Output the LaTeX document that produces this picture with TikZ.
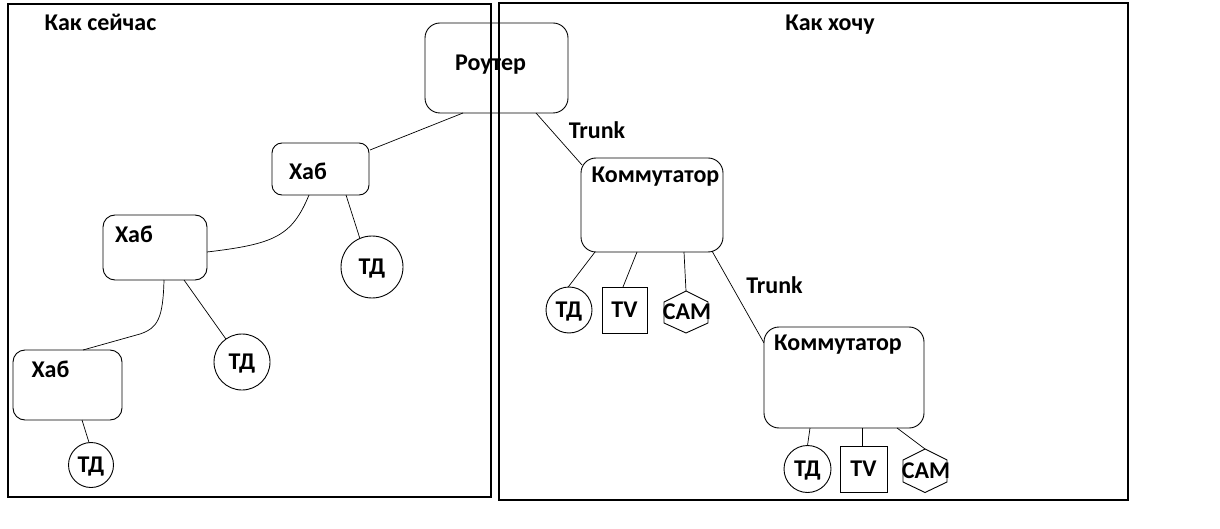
\documentclass[tikz,border=0pt]{standalone}
\usepackage{fontspec}
\setmainfont{Carlito}
\usetikzlibrary{calc}
\newcommand\dfont{\fontsize{24}{28}\selectfont\bfseries}
\tikzset{
  framebox/.style={draw, line width=1.4pt},
  rbox/.style={draw, line width=0.9pt, inner sep=0pt, outer sep=0pt, rounded corners=#1},
  rbox/.default=14pt,
  tdnode/.style={draw, circle, line width=0.9pt, inner sep=0pt, outer sep=0pt, minimum size=#1, font=\dfont, text height=15pt, text depth=0pt},
  tvnode/.style={draw, rectangle, line width=0.9pt, inner sep=0pt, outer sep=0pt, minimum width=45pt, minimum height=46pt, font=\dfont, text height=15pt, text depth=0pt},
  hexnode/.style={inner sep=0pt, outer sep=0pt, font=\dfont, text height=15pt, text depth=0pt},
  hexline/.style={line width=0.9pt},
  txt/.style={inner sep=0pt, anchor=base, font=\dfont},
  link/.style={line width=0.7pt}
}
\begin{document}
\begin{tikzpicture}[x=1pt, y=-1pt]
\useasboundingbox (0,0) rectangle (1220,529);
% frames
\draw[framebox] (8,4) rectangle (491,497);
\draw[framebox] (499,3) rectangle (1128,500);
\node[txt] (tleft) at (100.5,31) {Как сейчас};
\node[txt] (tright) at (830,31) {Как хочу};

% router
\node[rbox=15pt, minimum width=143pt, minimum height=90pt] (router) at (496.5,68) {};
\node[txt] (trouter) at (490.5,71) {Роутер};

% left side hubs
\node[rbox=10pt, minimum width=97pt, minimum height=52pt] (hub1) at (320.5,169) {};
\node[txt] (thub1) at (308,180) {Хаб};
\node[rbox=12pt, minimum width=104pt, minimum height=65pt] (hub2) at (155,247.5) {};
\node[txt] (thub2) at (134,243) {Хаб};
\node[rbox=12pt, minimum width=109pt, minimum height=70pt] (hub3) at (67.5,385) {};
\node[txt] (thub3) at (50.5,377) {Хаб};
\node[tdnode=62pt] (td1) at (372,267) {ТД};
\node[tdnode=56pt] (td2) at (242,362) {ТД};
\node[tdnode=45pt] (td3) at (91,465) {ТД};

% right side switches
\node[rbox=15pt, minimum width=142pt, minimum height=94pt] (sw1) at (652,205) {};
\node[txt] (tsw1) at (655.5,183) {Коммутатор};
\node[rbox=15pt, minimum width=160pt, minimum height=101pt] (sw2) at (844,377.5) {};
\node[txt] (tsw2) at (838,350) {Коммутатор};
\node[txt] (trunk1) at (597,139) {Trunk};
\node[txt] (trunk2) at (774.5,293) {Trunk};

\node[tdnode=46pt] (rtd1) at (569,310) {ТД};
\node[tvnode] (tv1) at (624.5,310) {TV};
\node[hexnode] (cam1) at (687,312) {CAM};
\draw[hexline] ([shift={(-1,-21)}]cam1.center) -- ++(22,11) -- ++(0,21) -- ++(-22,10) -- ++(-22,-10) -- ++(0,-21) -- cycle;

\node[tdnode=47pt] (rtd2) at (807.5,469) {ТД};
\node[tvnode, minimum width=47pt] (tv2) at (863.5,469) {TV};
\node[hexnode] (cam2) at (926,470.5) {CAM};
\draw[hexline] ([shift={(-1,-21.5)}]cam2.center) -- ++(22,11) -- ++(0,22) -- ++(-22,10.5) -- ++(-22,-10.5) -- ++(0,-22) -- cycle;

% connectors left
\draw[link] ([shift={(38,0)}]router.south west) -- ([shift={(1,7)}]hub1.north east);
\draw[link] ([shift={(37,0)}]hub1.south west) .. controls (292,236) and (275,244) .. ([shift={(0,37)}]hub2.north east);
\draw[link] ([shift={(74,0)}]hub1.south west) -- (td1.113);
\draw[link] ([shift={(61,0)}]hub2.south west) .. controls (163,318) and (158,328) .. (140,334) -- ([shift={(70,0)}]hub3.north west);
\draw[link] ([shift={(81,0)}]hub2.south west) -- (td2.125);
\draw[link] ([shift={(69,0)}]hub3.south west) -- (td3.95);

% connectors right
\draw[link] ([shift={(111,0)}]router.south west) -- ([shift={(1,7)}]sw1.north west);
\draw[link] ([shift={(14,0)}]sw1.south west) -- (rtd1.92);
\draw[link] ([shift={(56,0)}]sw1.south west) -- ([shift={(21,0)}]tv1.north west);
\draw[link] ([shift={(103,0)}]sw1.south west) -- ([shift={(-1,-21)}]cam1.center);
\draw[link] ([shift={(-11,-1)}]sw1.south east) -- ([shift={(0,16)}]sw2.north west);
\draw[link] ([shift={(46,0)}]sw2.south west) -- (rtd2.north);
\draw[link] ([shift={(98,0)}]sw2.south west) -- ([shift={(22,0)}]tv2.north west);
\draw[link] ([shift={(133,0)}]sw2.south west) -- ([shift={(-1,-21.5)}]cam2.center);
\end{tikzpicture}
\end{document}
